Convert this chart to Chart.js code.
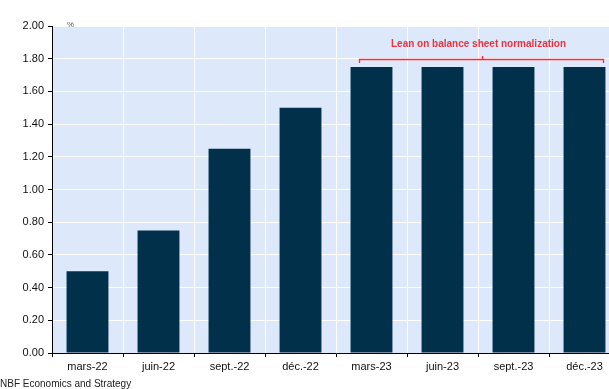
<!DOCTYPE html>
<html><head><meta charset="utf-8">
<script src="https://cdn.jsdelivr.net/npm/chart.js@4/dist/chart.umd.min.js"></script>
<style>
html,body{margin:0;padding:0;background:#fff;overflow:hidden;}
#wrap{width:609px;height:389px;overflow:hidden;position:relative;}
canvas{display:block;}
</style></head><body>
<div id="wrap"><canvas id="c" width="626" height="389" style="width:626px;height:389px"></canvas></div>
<script>
const categories = ['mars-22','juin-22','sept.-22','déc.-22','mars-23','juin-23','sept.-23','déc.-23'];
const policyRate = [0.50, 0.75, 1.25, 1.50, 1.75, 1.75, 1.75, 1.75];
const yTicks = [0,0.2,0.4,0.6,0.8,1.0,1.2,1.4,1.6,1.8,2.0];
const annotationText = 'Lean on balance sheet normalization';
const bracketFrom = 3.83, bracketTo = 7.265, bracketValue = 1.80, annotationTextValue = 1.89;
const unitLabel = '%';
const sourceText = 'NBF Economics and Strategy';

const FONT = '"Liberation Sans", Arial, sans-serif';

const bgPlugin = {
  id:'bg',
  beforeDraw(chart){
    const {ctx, chartArea:a} = chart;
    ctx.save(); ctx.fillStyle='#dde9fb';
    ctx.fillRect(a.left,a.top,a.right-a.left,a.bottom-a.top);
    ctx.restore();
  }
};
const annPlugin = {
  id:'ann',
  afterDraw(chart){
    const {ctx, scales:{x,y}} = chart;
    const cw = x.getPixelForValue(1) - x.getPixelForValue(0);
    const px = v => Math.round(x.getPixelForValue(Math.floor(v)) + (v-Math.floor(v))*cw)+0.5;
    const x1 = px(bracketFrom), x2 = px(bracketTo), yb = Math.round(y.getPixelForValue(bracketValue))+0.5;
    const mid = Math.round((x1+x2)/2)+0.5;
    ctx.save();
    ctx.strokeStyle='#ff2a35'; ctx.lineWidth=1.3;
    ctx.beginPath();
    ctx.moveTo(x1,yb+3.5); ctx.lineTo(x1,yb); ctx.lineTo(x2,yb); ctx.lineTo(x2,yb+3.5);
    ctx.moveTo(mid,yb); ctx.lineTo(mid,yb-3.5);
    ctx.stroke();
    ctx.fillStyle='#f0303a';
    ctx.font='bold 10px '+FONT;
    ctx.textAlign='center'; ctx.textBaseline='middle';
    ctx.fillText(annotationText, mid-4, y.getPixelForValue(annotationTextValue));
    ctx.fillStyle='#555';
    ctx.font='8px '+FONT; ctx.textAlign='left';
    ctx.fillText(unitLabel, x.left+15, y.top-1);
    ctx.fillStyle='#222';
    ctx.font='10px '+FONT; ctx.textBaseline='alphabetic';
    ctx.fillText(sourceText, 0, 387);
    ctx.restore();
  }
};

new Chart(document.getElementById('c'), {
  type:'bar',
  data:{labels:categories, datasets:[{data:policyRate, backgroundColor:'#01304b', borderWidth:0, barPercentage:0.59, categoryPercentage:1}]},
  options:{
    responsive:false, animation:false,
    layout:{padding:{top:26,right:6,left:0,bottom:0}},
    plugins:{legend:{display:false}, tooltip:{enabled:false}},
    scales:{
      x:{
        grid:{color:'#ffffff', lineWidth:1, tickColor:'#000', tickLength:4, offset:true, drawOnChartArea:true},
        border:{color:'#000', width:1},
        ticks:{color:'#111', font:{family:FONT,size:11}, padding:3, maxRotation:0, autoSkip:false},
        afterFit(s){ s.height = 36; }
      },
      y:{
        min:0, max:2,
        afterBuildTicks(s){ s.ticks = yTicks.map(v=>({value:v})); },
        grid:{color:'#ffffff', lineWidth:1, tickColor:'#000', tickLength:4},
        border:{color:'#000', width:1},
        ticks:{color:'#111', font:{family:FONT,size:11}, padding:4, callback:v=>Number(v).toFixed(2)},
        afterFit(s){ s.width = 52; }
      }
    }
  },
  plugins:[bgPlugin, annPlugin]
});
</script>
</body></html>
